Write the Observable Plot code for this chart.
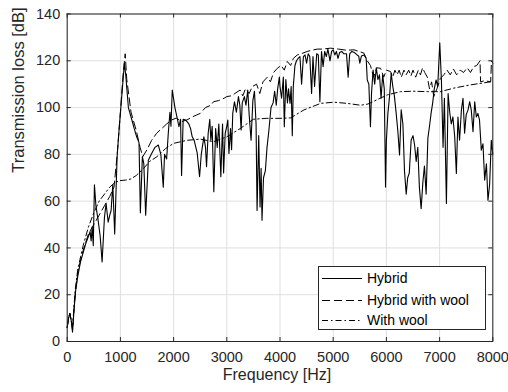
<!DOCTYPE html>
<html><head><meta charset="utf-8">
<script src="https://cdn.jsdelivr.net/npm/d3@7"></script>
<script src="https://cdn.jsdelivr.net/npm/@observablehq/plot@0.6"></script>
<style>
html,body{margin:0;padding:0;background:#fff;}
#wrap{position:relative;width:508px;height:392px;}
#legend{position:absolute;left:318px;top:266px;width:166px;height:62px;border:1px solid #262626;background:#fff;font-family:"Liberation Sans",Arial,sans-serif;font-size:14px;color:#000;}
.row{position:absolute;left:3px;height:20px;display:flex;align-items:center;white-space:nowrap;}
.row svg{margin-right:5px;}
</style></head><body><div id="wrap"><div id="legend"></div></div>
<script>
const xTicks = [0,1000,2000,3000,4000,5000,6000,7000,8000];
const yTicks = [0,20,40,60,80,100,120,140];
const seriesNames = ["Hybrid","Hybrid with wool","With wool"];

const hybridFreq = [0,25,50,75,100,130,160,200,250,300,350,400,430,450,470,490,512,540,580,620,656,700,731,770,800,825,857,893,938,980,1030,1075,1100,1150,1212,1260,1306,1350,1375,1413,1440,1475,1525,1580,1650,1712,1760,1806,1830,1869,1900,1931,1950,1975,2025,2069,2100,2131,2150,2180,2225,2287,2319,2350,2387,2444,2488,2520,2569,2600,2619,2650,2680,2700,2725,2756,2790,2820,2850,2888,2920,2940,2970,3000,3019,3040,3070,3090,3112,3144,3180,3219,3245,3269,3290,3330,3360,3394,3420,3456,3490,3520,3550,3569,3600,3625,3645,3662,3690,3725,3756,3790,3831,3870,3900,3930,3956,3988,4000,4030,4063,4081,4110,4140,4160,4188,4210,4231,4250,4281,4310,4340,4375,4406,4440,4470,4500,4530,4560,4594,4620,4650,4690,4720,4750,4780,4810,4840,4870,4900,4940,4970,5000,5030,5060,5090,5120,5160,5200,5250,5281,5310,5350,5400,5450,5480,5500,5530,5580,5620,5640,5670,5700,5720,5750,5780,5810,5840,5870,5900,5930,5960,5984,6000,6028,6060,6090,6120,6150,6184,6215,6247,6278,6310,6340,6372,6400,6430,6465,6500,6530,6560,6590,6620,6653,6685,6715,6747,6780,6810,6840,6870,6900,6934,6965,7003,7034,7065,7090,7128,7160,7190,7220,7250,7284,7315,7345,7375,7410,7440,7470,7500,7535,7565,7595,7628,7660,7690,7720,7750,7784,7815,7847,7880,7909,7940,7972,8000];
const hybridLoss = [6,10,12,9,4,14,22,28,34,38,42,45,47,43,49,41,67,58,52,45,34,53,59,51,54,56,67,46,79,92,106,119,114,100,95,91,87.5,85,55,79,76,54,77.5,80,83,84,80,66,80,78,89,98,92,107.5,100,95.4,91.8,95,71,95,94.7,93,91,87.5,86,80.5,70.4,80,87.5,83,74.7,89,95,86,92,64,91,83,93,70.4,93,72,89,92,94.7,80.4,91,82,97.5,102.5,98,104.7,101,90.4,102,104.7,101,107.5,97,86,103,107,93,56,88,57.5,74,51.8,70,73,83,90,100,102,107,101,108,113,109,104,113,91.8,112,102,108,101.8,109,88,109,118,120,121,121.8,110,121.8,122.5,119,123,121.8,106,121.8,109,123,122.5,102.5,124,117.5,124,121.8,125,120,124,124.7,122.5,124,121,123.5,124,123,123,113,123,124,123.5,122.5,122,119,122,122.5,121,111.8,110,91.8,106,116,110,117,112,114,104,114,108,66,86,97.5,105,114.7,109,105,97.5,90,79.7,99,93,73,63,70,72,86,88,84,77,83,66,56.8,68,75,63,87,92,97.5,102,108,111.8,109,127.7,111.8,83,104,59,106,98,93,96,87.5,71.8,96,86,99,104,89,97,99,102.5,99,89.7,102.5,96,97.5,94.7,81.8,84.5,69,76,60.4,67,86,80];

const woolHybridFreq = [0,25,50,75,100,150,200,300,400,500,600,700,800,880,940,1000,1050,1090,1120,1200,1300,1370,1420,1500,1587,1680,1775,1870,1962,2050,2150,2250,2350,2500,2600,2700,2750,2850,2950,3000,3080,3150,3250,3300,3350,3420,3480,3560,3620,3680,3762,3820,3880,3950,4020,4080,4137,4200,4250,4325,4400,4512,4600,4700,4800,4950,5100,5250,5390,5480,5577,5640,5700,5760,5820,5890,5950,6000,6077,6120,6160,6200,6240,6280,6330,6370,6420,6460,6500,6550,6600,6640,6680,6720,6770,6810,6850,6890,6950,7015,7080,7140,7200,7260,7320,7390,7450,7520,7580,7640,7700,7760,7770,7850,7960,7975,8000];
const woolHybridLoss = [6,10,12,9,5,20,30,39,46,50,54,58,62,66,80,98,114,123,112,98,90,83,79,82,86,89,91,93,94.7,95.5,94,94.7,96,97.5,100,101,102.5,103,104,104.7,105,106,107.5,105,108,106,109,110,106,111,113,111,115,116.8,118,116,119.7,118,121,122.5,123,124,124.5,125,125,125.4,125,124.5,124.7,124,123.3,120,118,113,117,116.8,113,116,115.4,113,116,114,116,113,116,114,116,113.5,116,113,116,114,117,115,113,108,111,104.7,108,112.5,114,116,114,116.5,114,116,115,117,115,117.5,118,120,111,111.5,111,120,119];

const woolFreq = [0,25,50,75,100,150,200,300,400,500,600,700,800,900,1000,1100,1200,1300,1437,1550,1687,1850,2000,2250,2500,2750,3000,3250,3500,3750,4000,4200,4450,4765,5015,5260,5515,5650,5820,6015,6265,6515,6765,7015,7265,7580,7955,8000];
const woolLoss = [6,10,12,9,6,22,31,41,49,55,60,63,66,68,68.8,69,69.5,71,74,77,79,82.5,84.7,86,86.5,85.4,87.5,91,95,95.4,95.4,95.6,99,101.8,102.3,101.8,101,101.5,103.3,105.4,106.8,107,106.8,106.8,108.3,109.7,111,111];

const toRows = (fs, vs) => fs.map((f, i) => ({f, v: vs[i]}));
const hybrid = toRows(hybridFreq, hybridLoss);
const woolHybrid = toRows(woolHybridFreq, woolHybridLoss);
const wool = toRows(woolFreq, woolLoss);

const W = 508, H = 392, mL = 66.7, mR = 15.7, mT = 13.5, mB = 51;
const iW = W - mL - mR, iH = H - mT - mB;
const dashes = [null, "8,4", "6,3,1.5,3"];
const ink = "#262626";

const chart = Plot.plot({
  width: W, height: H,
  marginLeft: mL, marginRight: mR, marginTop: mT, marginBottom: mB,
  style: {fontFamily: "'Liberation Sans', Arial, sans-serif", fontSize: "14.5px", color: ink, background: "#fff"},
  x: {domain: [0, 8000]},
  y: {domain: [0, 140]},
  marks: [
    Plot.gridX(xTicks, {stroke: "#dfdfdf", strokeOpacity: 1}),
    Plot.gridY(yTicks, {stroke: "#dfdfdf", strokeOpacity: 1}),
    Plot.line(wool, {x: "f", y: "v", stroke: "#000", strokeWidth: 1, strokeDasharray: dashes[2]}),
    Plot.line(woolHybrid, {x: "f", y: "v", stroke: "#000", strokeWidth: 1, strokeDasharray: dashes[1]}),
    Plot.line(hybrid, {x: "f", y: "v", stroke: "#000", strokeWidth: 1.1}),
    Plot.ruleX(xTicks, {x: d => d, insetTop: iH - 4, stroke: ink}),
    Plot.ruleX(xTicks, {x: d => d, insetBottom: iH - 4, stroke: ink}),
    Plot.ruleY(yTicks, {y: d => d, insetRight: iW - 4, stroke: ink}),
    Plot.ruleY(yTicks, {y: d => d, insetLeft: iW - 4, stroke: ink}),
    Plot.frame({stroke: ink}),
    Plot.axisX(xTicks, {tickSize: 0, tickPadding: 10, tickFormat: d3.format("d"), label: null, fontSize: 14.5}),
    Plot.axisY(yTicks, {tickSize: 0, tickPadding: 7, tickFormat: d3.format("d"), label: null, fontSize: 14.5}),
    Plot.text(["Frequency [Hz]"], {text: d => d, frameAnchor: "bottom", dx: -3, dy: 38.5, fontSize: 16, fill: ink}),
    Plot.text(["Transmission loss [dB]"], {text: d => d, frameAnchor: "left", dx: -48, dy: -5, rotate: -90, fontSize: 16.5, fill: ink})
  ]
});
const wrap = document.getElementById("wrap");
wrap.insertBefore(chart, wrap.firstChild);

const legend = document.getElementById("legend");
const rowTops = [1, 23, 43];
seriesNames.forEach((name, i) => {
  const row = document.createElement("div");
  row.className = "row";
  row.style.top = rowTops[i] + "px";
  const dash = dashes[i] ? ` stroke-dasharray="${dashes[i]}"` : "";
  row.innerHTML = `<svg width="40" height="20"><line x1="0" x2="40" y1="10.5" y2="10.5" stroke="#000" stroke-width="1"${dash}/></svg><span>${name}</span>`;
  legend.appendChild(row);
});
</script>
</body></html>
